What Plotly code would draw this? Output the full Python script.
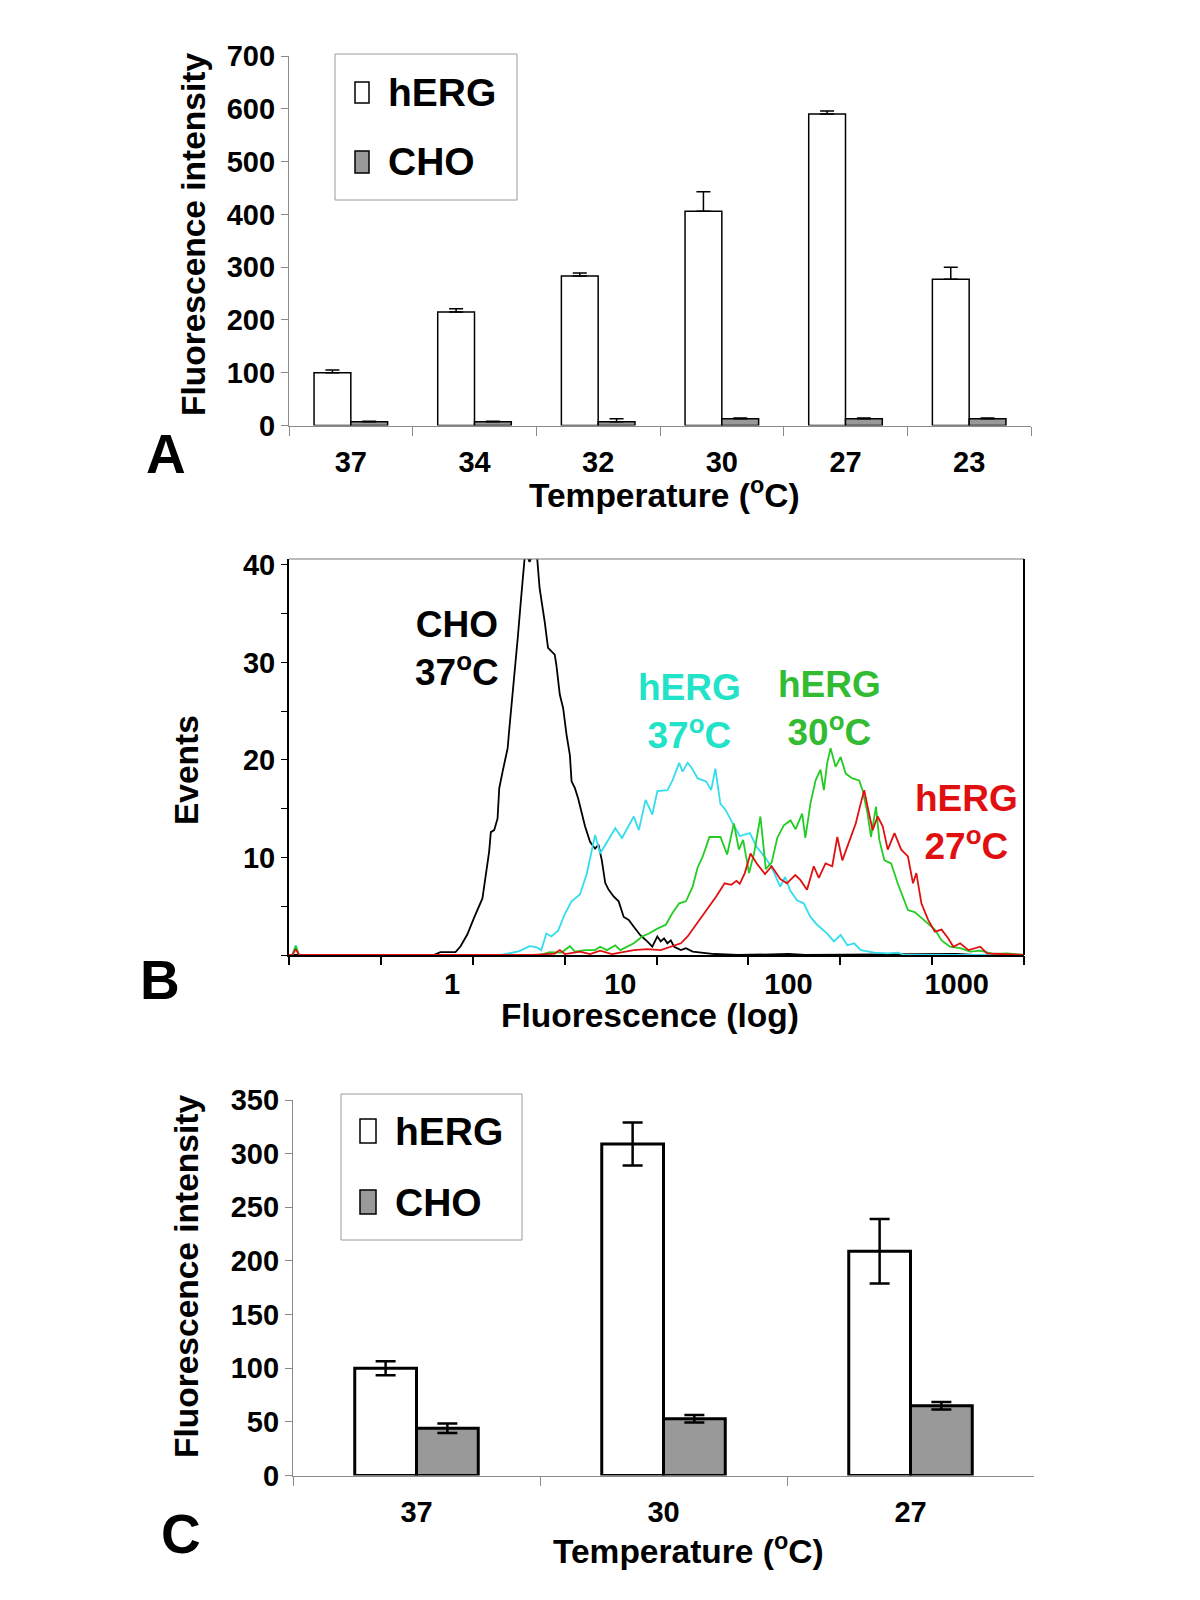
import plotly.graph_objects as go

# ---------------- DATA ----------------
# Panel A
temps_a = ["37", "34", "32", "30", "27", "23"]
herg_a = [100, 215, 283, 406, 590, 277]
herg_a_err = [5, 6, 6, 37, 6, 23]
cho_a = [7, 7, 7, 13, 13, 13]
cho_a_err = [1, 1, 6, 1, 1, 1]

# Panel B (flow cytometry histograms): log10(fluorescence) positions and event counts
cho37_logf = [-0.97, -0.11, -0.07, 0.02, 0.05, 0.09, 0.13, 0.16, 0.18, 0.20, 0.22, 0.23, 0.25, 0.27,
              0.28, 0.30, 0.32, 0.33, 0.34, 0.36, 0.37, 0.39, 0.41, 0.42, 0.435, 0.46, 0.49, 0.505,
              0.52, 0.55, 0.57, 0.61, 0.62, 0.64, 0.66, 0.68, 0.70, 0.71, 0.73, 0.75, 0.77, 0.79,
              0.82, 0.85, 0.87, 0.89, 0.91, 0.93, 0.96, 0.99, 1.02, 1.05, 1.08, 1.12, 1.16, 1.19,
              1.22, 1.24, 1.26, 1.28, 1.30, 1.32, 1.36, 1.39, 1.43, 1.48, 1.56, 1.70, 2.00, 2.10,
              3.00, 3.10, 3.40]
cho37_events = [0, 0, 0.3, 0.3, 0.9, 2.1, 3.8, 5.1, 5.8, 8.2, 10.6, 12.6, 12.8, 14.0,
                17.1, 18.8, 20.5, 21.2, 23.2, 26.7, 29.1, 32.5, 36.6, 39.0, 41.5, 40.3, 41.5, 40.8,
                37.6, 34.2, 31.5, 30.8, 29.7, 26.7, 25.3, 22.6, 20.5, 17.8, 17.1, 16.0, 14.5, 13.2,
                11.6, 10.9, 11.3, 9.7, 7.4, 6.7, 6.0, 5.5, 3.9, 3.6, 2.9, 2.0, 1.4, 0.85,
                1.9, 1.4, 1.7, 1.2, 1.5, 0.85, 0.5, 0.7, 0.35, 0.25, 0.1, 0.0, 0.1, 0.0,
                0.1, 0.0, 0.0]

herg37_logf = [-0.97, -0.95, -0.93, -0.91, 0.29, 0.33, 0.40, 0.46, 0.50, 0.53, 0.56, 0.59, 0.63,
               0.67, 0.71, 0.76, 0.80, 0.83, 0.85, 0.88, 0.92, 0.97, 1.01, 1.05, 1.08, 1.11, 1.15,
               1.19, 1.22, 1.28, 1.31, 1.35, 1.37, 1.40, 1.42, 1.46, 1.51, 1.54, 1.565, 1.595,
               1.625, 1.665, 1.71, 1.77, 1.81, 1.87, 1.91, 1.95, 1.98, 2.01, 2.05, 2.09, 2.13,
               2.17, 2.23, 2.27, 2.31, 2.35, 2.39, 2.43, 2.51, 2.59, 2.65, 2.69, 3.40]
herg37_events = [0, 0, 1.0, 0, 0, 0.15, 0.4, 0.9, 0.8, 0.5, 2.2, 1.9, 2.5,
                 4.2, 5.5, 6.2, 8.3, 10.7, 12.3, 10.4, 11.5, 13.0, 12.0, 13.2, 14.2, 12.8, 15.9,
                 14.4, 16.8, 16.9, 17.9, 19.7, 18.8, 19.7, 19.3, 18.1, 17.8, 16.9, 19.1, 15.5,
                 14.9, 13.6, 12.2, 12.5, 11.1, 9.8, 8.6, 7.0, 8.0, 6.6, 5.6, 5.3, 3.9,
                 3.1, 2.2, 1.4, 2.05, 1.0, 1.2, 0.5, 0.25, 0.17, 0.25, 0, 0]

herg30_logf = [-0.97, -0.95, -0.93, -0.91, 0.52, 0.58, 0.65, 0.70, 0.73, 0.79, 0.85, 0.88, 0.92,
               0.97, 1.00, 1.04, 1.08, 1.13, 1.17, 1.22, 1.27, 1.31, 1.35, 1.39, 1.43, 1.46, 1.49,
               1.53, 1.595, 1.635, 1.675, 1.705, 1.73, 1.765, 1.795, 1.833, 1.865, 1.90, 1.933,
               1.972, 2.012, 2.042, 2.081, 2.10, 2.131, 2.161, 2.19, 2.21, 2.23, 2.25, 2.28, 2.31,
               2.34, 2.38, 2.42, 2.44, 2.47, 2.49, 2.52, 2.54, 2.57, 2.61, 2.65, 2.71, 2.75, 2.79,
               2.83, 2.87, 2.91, 2.96, 3.02, 3.08, 3.14, 3.22, 3.30, 3.38, 3.40]
herg30_events = [0, 0, 0.9, 0, 0, 0.3, 0.25, 0.9, 0.35, 0.5, 0.5, 0.85, 0.5,
                 1.0, 0.5, 0.85, 1.2, 1.9, 2.2, 2.7, 3.1, 4.3, 5.3, 5.5, 7.0, 9.0, 10.1,
                 12.1, 12.1, 10.3, 13.5, 10.8, 11.8, 8.4, 10.4, 14.2, 8.8, 9.5, 12.0,
                 13.3, 13.8, 12.9, 14.5, 12.0, 15.6, 17.9, 19.0, 16.9, 19.7, 21.2, 19.3, 20.3,
                 18.6, 18.1, 17.9, 16.9, 14.5, 12.1, 15.2, 11.8, 9.7, 9.4, 7.3, 4.6, 4.4, 3.8,
                 3.2, 2.6, 1.5, 0.85, 0.7, 0.35, 0.45, 0.1, 0.17, 0, 0]

herg27_logf = [-0.97, -0.95, -0.93, -0.91, 0.48, 0.61, 0.64, 0.67, 0.76, 0.82, 0.88, 0.95, 1.08,
               1.16, 1.24, 1.30, 1.36, 1.40, 1.44, 1.48, 1.52, 1.57, 1.62, 1.66, 1.69, 1.71, 1.74,
               1.774, 1.81, 1.86, 1.90, 1.95, 1.99, 2.04, 2.07, 2.11, 2.15, 2.18, 2.22, 2.26, 2.29,
               2.32, 2.36, 2.40, 2.43, 2.45, 2.47, 2.50, 2.53, 2.56, 2.59, 2.63, 2.67, 2.71, 2.74,
               2.76, 2.79, 2.83, 2.87, 2.91, 2.95, 2.98, 3.02, 3.07, 3.14, 3.18, 3.26, 3.35, 3.40]
herg27_events = [0, 0, 0.6, 0, 0, 0.15, 0.5, 0.1, 0.35, 0.1, 0.45, 0.1, 0.5,
                 0.6, 0.5, 0.85, 1.2, 1.9, 2.9, 3.9, 4.8, 6.0, 7.35, 7.2, 7.6, 7.3, 8.4,
                 10.4, 9.4, 8.3, 9.1, 7.8, 7.35, 8.2, 7.7, 6.7, 9.1, 7.9, 9.4, 9.1, 12.1,
                 9.7, 11.5, 13.5, 15.6, 16.9, 15.2, 12.8, 14.2, 13.2, 10.8, 12.5, 10.8, 10.1, 7.35,
                 8.4, 5.3, 3.6, 2.4, 2.6, 1.7, 0.85, 1.2, 0.5, 0.85, 0.17, 0.1, 0, 0]

fluor_tick_labels = [1, 10, 100, 1000]

# Panel C
temps_c = ["37", "30", "27"]
herg_c = [100, 309, 209]
herg_c_err = [6.5, 20, 30]
cho_c = [44, 53, 65]
cho_c_err = [4.5, 3.5, 3.5]

# ---------------- STYLE ----------------
FONT = "Liberation Sans, Arial, sans-serif"
W, H = 1200, 1600
OFF = 8  # page body margin
GRAY = "#999999"
AXGRAY = "#8a8a8a"
CYAN_LINE, CYAN_TXT = "#33DDEE", "#22E2C8"
GREEN_LINE, GREEN_TXT = "#22CC22", "#33BB33"
RED = "#E01010"
TITLE_SIZE = 33.5


def px(x):
    return (x - OFF) / W


def py(y):
    return 1 - (y - OFF) / H


fig = go.Figure()

# Panel A bars
fig.add_trace(go.Bar(x=temps_a, y=herg_a, name="hERG", xaxis="x", yaxis="y",
                     marker=dict(color="white", line=dict(color="black", width=1.5)),
                     error_y=dict(type="data", symmetric=False, array=herg_a_err,
                                  arrayminus=[0] * len(herg_a), color="black", thickness=1.5, width=7),
                     showlegend=False))
fig.add_trace(go.Bar(x=temps_a, y=cho_a, name="CHO", xaxis="x", yaxis="y",
                     marker=dict(color=GRAY, line=dict(color="black", width=1.5)),
                     error_y=dict(type="data", symmetric=False, array=cho_a_err,
                                  arrayminus=[0] * len(cho_a), color="black", thickness=1.5, width=7),
                     showlegend=False))

# Panel B histograms
for logs, ev, col, nm in [(cho37_logf, cho37_events, "black", "CHO 37"),
                          (herg37_logf, herg37_events, CYAN_LINE, "hERG 37"),
                          (herg30_logf, herg30_events, GREEN_LINE, "hERG 30"),
                          (herg27_logf, herg27_events, RED, "hERG 27")]:
    fig.add_trace(go.Scatter(x=[10 ** v for v in logs], y=ev, mode="lines", name=nm,
                             xaxis="x2", yaxis="y2", line=dict(color=col, width=1.8),
                             showlegend=False))
# invisible trace for the tick-mark overlay axis
fig.add_trace(go.Scatter(x=[1], y=[0], mode="markers", marker=dict(opacity=0),
                         xaxis="x4", yaxis="y2", showlegend=False, hoverinfo="skip"))

# Panel C bars
fig.add_trace(go.Bar(x=temps_c, y=herg_c, name="hERG", xaxis="x3", yaxis="y3",
                     marker=dict(color="white", line=dict(color="black", width=3)),
                     error_y=dict(type="data", array=herg_c_err, color="black", thickness=2.5, width=10),
                     width=0.25, offset=-0.25, showlegend=False))
fig.add_trace(go.Bar(x=temps_c, y=cho_c, name="CHO", xaxis="x3", yaxis="y3",
                     marker=dict(color=GRAY, line=dict(color="black", width=3)),
                     error_y=dict(type="data", array=cho_c_err, color="black", thickness=2.5, width=10),
                     width=0.25, offset=0.0, showlegend=False))

tickfont = dict(family=FONT, size=29, color="black", weight="bold")

cat_x = dict(type="category", tickson="boundaries", ticks="outside", ticklen=9, tickcolor=AXGRAY,
             tickwidth=1, showline=True, linecolor=AXGRAY, linewidth=1.2, showgrid=False,
             tickfont=tickfont, ticklabelstandoff=11, automargin=False)
bar_y = dict(ticks="outside", ticklen=7, tickcolor=AXGRAY, showline=True, linecolor=AXGRAY,
             linewidth=1.2, showgrid=False, zeroline=False, tickfont=tickfont, automargin=False)

ax_lo, ax_hi = -0.97, 3.40
step = (ax_hi - ax_lo) / 8

fig.update_layout(
    template="none",
    width=W, height=H, margin=dict(l=0, r=0, t=0, b=0, pad=0), autosize=False,
    paper_bgcolor="white", plot_bgcolor="white",
    barmode="group", bargap=0.405,
    showlegend=False,
    font=dict(family=FONT, color="black"),
    xaxis=dict(cat_x, domain=[px(289), px(1031)], anchor="y"),
    yaxis=dict(bar_y, domain=[py(425.5), py(56)], anchor="x", range=[0, 700], dtick=100),
    xaxis2=dict(domain=[px(289), px(1024)], anchor="y2", type="log", range=[ax_lo, ax_hi],
                tickvals=fluor_tick_labels, ticktext=[str(v) for v in fluor_tick_labels],
                ticks="", showline=True, linecolor="black", linewidth=2, showgrid=False,
                zeroline=False, tickfont=tickfont, ticklabelstandoff=2, automargin=False),
    xaxis4=dict(overlaying="x2", anchor="y2", type="log", range=[ax_lo, ax_hi],
                tickvals=[10 ** (ax_lo + step * k) for k in range(9)], showticklabels=False,
                ticks="outside", ticklen=9, tickcolor="black", tickwidth=1.5, showline=False,
                showgrid=False, zeroline=False, automargin=False),
    yaxis2=dict(domain=[py(955), py(559)], anchor="x2", range=[0, 40.6],
                tickvals=[0, 5, 10, 15, 20, 25, 30, 35, 40],
                ticktext=["", "", "10", "", "20", "", "30", "", "40"],
                ticks="outside", ticklen=6, tickcolor="black", showline=True, linecolor="black",
                linewidth=2, showgrid=False, zeroline=False, tickfont=tickfont, automargin=False),
    xaxis3=dict(cat_x, domain=[px(293), px(1034)], anchor="y3"),
    yaxis3=dict(bar_y, domain=[py(1475.5), py(1100)], anchor="x3", range=[0, 350], dtick=50),
)

shapes = []
# Panel B frame (top thin gray, right black)
shapes.append(dict(type="line", xref="x2 domain", yref="y2 domain", x0=0, x1=1, y0=1, y1=1,
                   line=dict(color="#777777", width=1)))
shapes.append(dict(type="line", xref="x2 domain", yref="y2 domain", x0=1, x1=1, y0=0, y1=1,
                   line=dict(color="black", width=2)))

annotations = []


def legend_box(x0, x1, y0, y1, sym_x0, sym_x1, rows, text_x):
    shapes.append(dict(type="rect", xref="paper", yref="paper", x0=px(x0), x1=px(x1),
                       y0=py(y1), y1=py(y0), line=dict(color="#9a9a9a", width=1),
                       fillcolor="white", layer="below"))
    for (ya, yb, fill, label) in rows:
        shapes.append(dict(type="rect", xref="paper", yref="paper", x0=px(sym_x0), x1=px(sym_x1),
                           y0=py(yb), y1=py(ya), line=dict(color="black", width=1.5),
                           fillcolor=fill))
        annotations.append(dict(text=label, xref="paper", yref="paper", x=px(text_x),
                                y=py((ya + yb) / 2), xanchor="left", yanchor="middle",
                                showarrow=False,
                                font=dict(family=FONT, size=39, color="black", weight="bold")))


legend_box(335, 517, 54, 200, 355, 369,
           [(82, 103, "white", "hERG"), (151, 173, GRAY, "CHO")], 386)
legend_box(341, 522, 1094, 1240, 360, 376,
           [(1119, 1143, "white", "hERG"), (1190, 1214, GRAY, "CHO")], 393)


def text(t, x, y, size=TITLE_SIZE, color="black", angle=0):
    annotations.append(dict(text=t, xref="paper", yref="paper", x=px(x), y=py(y),
                            xanchor="center", yanchor="middle", showarrow=False, textangle=angle,
                            font=dict(family=FONT, size=size, color=color, weight="bold")))


temp_title = "Temperature (<sup>o</sup>C)"
# Axis titles
text("Fluorescence intensity", 194, 235, angle=-90)
text(temp_title, 664, 493)
text("Events", 186, 770, angle=-90)
text("Fluorescence (log)", 650, 1015)
text("Fluorescence intensity", 186, 1277, angle=-90)
text(temp_title, 688, 1549)
# Panel letters
text("A", 166, 454, size=55)
text("B", 160, 980, size=55)
text("C", 181, 1534, size=55)
# Panel B curve labels
text("CHO<br>37<sup>o</sup>C", 457, 648, size=37, color="black")
text("hERG<br>37<sup>o</sup>C", 689, 711, size=37, color=CYAN_TXT)
text("hERG<br>30<sup>o</sup>C", 829, 708, size=37, color=GREEN_TXT)
text("hERG<br>27<sup>o</sup>C", 966, 822, size=37, color=RED)

fig.update_layout(shapes=shapes, annotations=annotations)

fig.write_html("out.html")
